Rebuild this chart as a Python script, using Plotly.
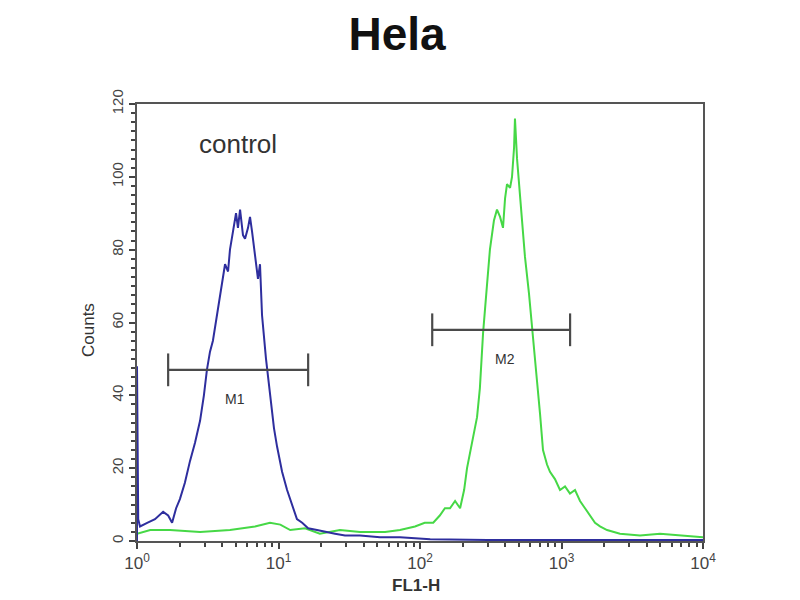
import plotly.graph_objects as go

# ---- data ----
blue_x = [1.0, 1.0, 1.02, 1.05, 1.18, 1.34, 1.53, 1.66, 1.77, 1.89, 2.01, 2.18, 2.37, 2.57, 2.79, 2.97,
          3.12, 3.28, 3.44, 3.68, 3.86, 4.05, 4.19, 4.40, 4.54, 4.77, 5.01, 5.17, 5.35, 5.61,
          5.80, 6.09, 6.29, 6.50, 6.82, 7.16, 7.40, 7.65, 8.16, 8.71, 9.29, 9.76, 10.6, 11.5,
          12.5, 13.5, 14.7, 16.2, 18.7, 21.3, 25.1, 29.5, 37.7, 52.1, 72.2, 118, 300, 10000]
blue_y = [0, 48, 6, 4, 5, 6, 8, 7, 5, 9, 11.5, 16, 22, 27, 33, 40,
          47, 52, 55, 62, 67, 72, 76, 74, 80, 85, 90, 86, 91, 84,
          83, 86, 89, 85, 78, 72, 76, 62, 50, 40, 31, 26, 19, 14,
          10, 6, 5, 3.5, 3, 2.5, 2, 1.5, 1.5, 1, 1, 0.5, 0.3, 0.3]

green_x = [1.0, 1.24, 1.71, 2.79, 4.54, 6.82, 8.71, 10.3, 12.1, 15.4, 19.6, 27.2, 37.7, 56.6,
           72.2, 92.2, 108, 124, 138, 150, 163, 177, 192, 205, 215, 233, 253, 265, 279, 297,
           312, 333, 350, 368, 386, 399, 412, 433, 447, 462, 469, 485, 501, 526, 552, 589,
           629, 671, 705, 740, 790, 829, 899, 976, 1059, 1148, 1246, 1352, 1466, 1590, 1725,
           1871, 2098, 2590, 3590, 4970, 6880, 10000]
green_y = [2, 3, 3, 2.5, 3, 4, 5, 4.5, 3, 3.5, 2, 3, 2.5, 2.5,
           3, 4, 5, 5, 7, 9, 9, 11, 9, 14, 20, 27, 34, 42, 57, 70,
           80, 88, 91, 89, 86, 94, 98, 97, 100, 108, 116, 105, 98, 86, 78, 68,
           55, 44, 35, 25, 21, 19, 17, 14, 15, 13, 14, 11, 9, 7, 5,
           4, 3, 2, 1.5, 2, 1.5, 1]

m1_range = [1.66, 16.2]
m1_level = 47
m2_range = [122, 1150]
m2_level = 58
bar_half = 4.5

x_tickvals = [1, 10, 100, 1000, 10000]
x_ticktext = ["10<sup>0</sup>", "10<sup>1</sup>", "10<sup>2</sup>", "10<sup>3</sup>", "10<sup>4</sup>"]
y_tickvals = [0, 20, 40, 60, 80, 100, 120]

FONT = "Liberation Sans"

fig = go.Figure()

fig.add_trace(go.Scatter(x=green_x, y=green_y, mode="lines",
                         line=dict(color="#46d846", width=2), hoverinfo="skip"))
fig.add_trace(go.Scatter(x=blue_x, y=blue_y, mode="lines",
                         line=dict(color="#2e2e9e", width=2), hoverinfo="skip"))

def marker_xy(rng, lvl):
    xs = [rng[0], rng[1], None, rng[0], rng[0], None, rng[1], rng[1]]
    ys = [lvl, lvl, None, lvl - bar_half, lvl + bar_half, None, lvl - bar_half, lvl + bar_half]
    return xs, ys

for rng, lvl in [(m1_range, m1_level), (m2_range, m2_level)]:
    xs, ys = marker_xy(rng, lvl)
    fig.add_trace(go.Scatter(x=xs, y=ys, mode="lines",
                             line=dict(color="#4a4a4a", width=2.2), hoverinfo="skip"))

fig.add_annotation(x=0.693, y=39, xref="x", yref="y", text="M1", showarrow=False,
                   font=dict(family=FONT, size=14, color="#333"))
fig.add_annotation(x=2.6, y=50, xref="x", yref="y", text="M2", showarrow=False,
                   font=dict(family=FONT, size=14, color="#333"))
fig.add_annotation(x=0.714, y=109, xref="x", yref="y", text="control", showarrow=False,
                   font=dict(family=FONT, size=26, color="#333"))

# plot area in reference pixels (page has 8px body offset)
PL, PR, PT, PB = 137, 703, 104, 541
def px(x):
    return (x - PL) / (PR - PL)
def py(y):
    return (PB - y) / (PB - PT)

fig.add_annotation(x=px(416), y=py(585), xref="paper", yref="paper", text="<b>FL1-H</b>",
                   showarrow=False, xanchor="center", yanchor="middle",
                   font=dict(family=FONT, size=17, color="#333"))
fig.add_annotation(x=px(88), y=py(330), xref="paper", yref="paper", text="Counts",
                   showarrow=False, xanchor="center", yanchor="middle", textangle=-90,
                   font=dict(family=FONT, size=17, color="#333"))

fig.update_layout(
    width=800, height=600,
    title=dict(text="<b>Hela</b>", x=(397 - 8) / 800, y=1 - (34 - 8) / 600,
               xref="container", yref="container", xanchor="center", yanchor="middle",
               font=dict(family=FONT, size=46, color="#111")),
    margin=dict(l=PL - 8, r=800 - PR + 8, t=PT - 8, b=600 - PB + 8, autoexpand=False),
    paper_bgcolor="white", plot_bgcolor="white",
    showlegend=False,
    xaxis=dict(type="log", range=[0, 4], showgrid=False, zeroline=False, automargin=False,
               tickvals=x_tickvals, ticktext=x_ticktext,
               ticks="outside", ticklen=6, tickwidth=1.5, tickcolor="#444",
               minor=dict(ticks="outside", ticklen=4, tickcolor="#444",
                          tickvals=[m * 10 ** d for d in range(4) for m in range(2, 10)]),
               showline=True, linecolor="#555", linewidth=2, mirror=True,
               tickfont=dict(family=FONT, size=17, color="#444")),
    yaxis=dict(range=[0, 120], showgrid=False, zeroline=False, automargin=False,
               tickvals=y_tickvals, tickangle=-90,
               ticks="outside", ticklen=6, tickwidth=1.5, tickcolor="#444",
               minor=dict(ticks="outside", ticklen=4, tickcolor="#444", dtick=2.5),
               showline=True, linecolor="#555", linewidth=2, mirror=True,
               tickfont=dict(family=FONT, size=15, color="#444")),
)

fig.write_html("out.html")
